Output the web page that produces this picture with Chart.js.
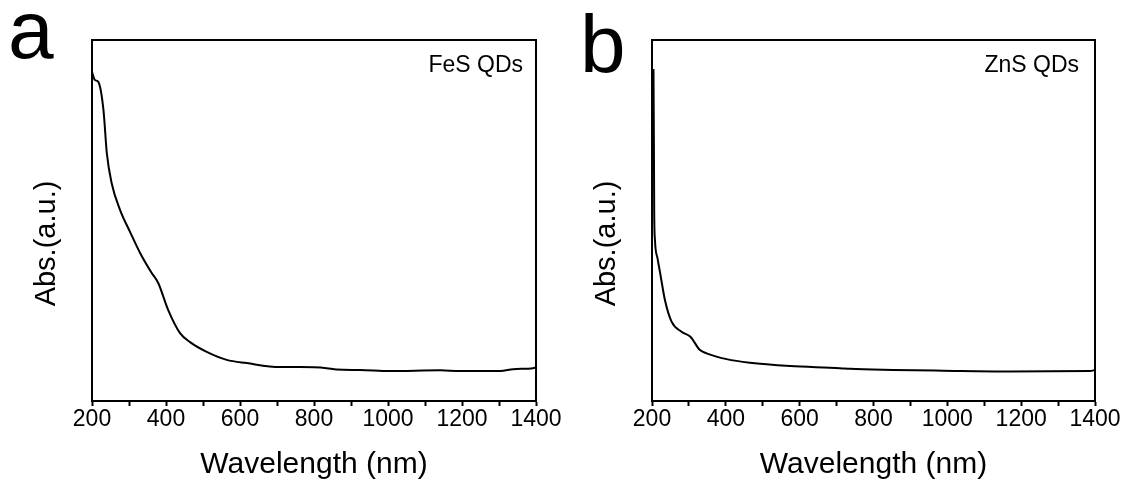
<!DOCTYPE html>
<html>
<head>
<meta charset="utf-8">
<script src="https://cdn.jsdelivr.net/npm/chart.js@4.4.1/dist/chart.umd.min.js"></script>
<style>
  html, body { margin: 0; padding: 0; background: #fff; }
  .panel { position: absolute; top: 0; width: 562px; height: 479px; }
</style>
</head>
<body>
<div class="panel" style="left:0"><canvas id="chartA" width="562" height="479"></canvas></div>
<div class="panel" style="left:562px"><canvas id="chartB" width="562" height="479"></canvas></div>
<script>
// x axis ticks (nm)
const majorTicks = [200, 400, 600, 800, 1000, 1200, 1400];
const minorTicks = [300, 500, 700, 900, 1100, 1300];

// panel a - FeS QDs (abs in arbitrary units, 0..100 = frame height)
const fesWavelength = [200, 208, 217, 231, 240, 253, 276, 303, 330, 361, 379, 406, 438, 465, 510, 564, 618, 708, 762, 834, 861, 924, 1005, 1141, 1195, 1303, 1338, 1392, 1400];
const fesAbs = [91.1, 88.9, 88.4, 80.6, 68.7, 60.4, 52.9, 46.8, 41.0, 35.5, 32.7, 25.2, 18.8, 16.3, 13.6, 11.4, 10.5, 9.4, 9.4, 9.1, 8.7, 8.6, 8.3, 8.5, 8.3, 8.3, 8.8, 9.1, 9.3];

// panel b - ZnS QDs
const znsWavelength = [200, 204, 206, 208, 215, 222, 235, 253, 280, 304, 330, 348, 402, 465, 574, 709, 736, 853, 988, 1170, 1387, 1400];
const znsAbs = [91.5, 91.7, 52.1, 44.6, 39.5, 35.5, 28.0, 22.0, 19.2, 17.8, 14.1, 13.2, 11.6, 10.6, 9.7, 9.1, 8.9, 8.6, 8.4, 8.2, 8.3, 8.6];

const fontFamily = "'Liberation Sans', Arial, sans-serif";

// draws panel letter, sample label and the y title
const panelText = {
  id: 'panelText',
  afterDraw(chart, args, opts) {
    const ctx = chart.ctx;
    const area = chart.chartArea;
    ctx.save();
    ctx.fillStyle = '#000';
    ctx.textBaseline = 'alphabetic';

    ctx.textAlign = 'left';
    ctx.font = '82px ' + fontFamily;
    ctx.fillText(opts.letter, opts.letterX, opts.letterY);

    ctx.textAlign = 'right';
    ctx.font = '23px ' + fontFamily;
    ctx.fillText(opts.label, area.right - opts.labelGap, 72);

    ctx.translate(area.left - 37, 243.5);
    ctx.rotate(-Math.PI / 2);
    ctx.textAlign = 'center';
    ctx.font = '29px ' + fontFamily;
    ctx.fillText('Abs.(a.u.)', 0, 0);
    ctx.restore();
  }
};

function makeChart(id, wl, abs, yWidth, rightPad, textOpts) {
  const points = wl.map((w, i) => ({ x: w, y: abs[i] }));
  return new Chart(document.getElementById(id), {
    type: 'line',
    data: {
      datasets: [{
        data: points,
        borderColor: '#000',
        borderWidth: 2,
        pointRadius: 0,
        fill: false,
        cubicInterpolationMode: 'monotone'
      }]
    },
    options: {
      responsive: false,
      animation: false,
      layout: { padding: { top: 40, right: rightPad, left: 0, bottom: 0 } },
      plugins: {
        legend: { display: false },
        tooltip: { enabled: false },
        panelText: textOpts
      },
      scales: {
        x: {
          type: 'linear',
          min: 200,
          max: 1400,
          afterBuildTicks(scale) {
            scale.ticks = majorTicks.concat(minorTicks).sort((p, q) => p - q).map(v => ({ value: v }));
          },
          afterFit(scale) {
            scale.height = 78;
            // edge labels may hang over the frame, don't shrink the plot for them
            scale.paddingLeft = 0;
            scale.paddingRight = 0;
          },
          ticks: {
            autoSkip: false,
            maxRotation: 0,
            padding: 2,
            color: '#000',
            font: { family: fontFamily, size: 23, lineHeight: 1 },
            callback: v => majorTicks.includes(v) ? String(v) : ''
          },
          grid: { drawOnChartArea: false, tickLength: 5, tickWidth: 2, tickColor: '#000' },
          border: { color: '#000', width: 2 },
          title: {
            display: true,
            text: 'Wavelength (nm)',
            color: '#000',
            font: { family: fontFamily, size: 30, lineHeight: 0.95 },
            padding: 0
          }
        },
        y: {
          min: 0,
          max: 100,
          ticks: { display: false },
          grid: { display: false },
          border: { color: '#000', width: 2 },
          afterFit(scale) { scale.width = yWidth; }
        },
        xTop: {
          type: 'linear',
          position: 'top',
          min: 200,
          max: 1400,
          ticks: { display: false },
          grid: { display: false, drawTicks: false },
          border: { color: '#000', width: 2 },
          afterFit(scale) { scale.height = 0; }
        },
        yRight: {
          position: 'right',
          min: 0,
          max: 100,
          ticks: { display: false },
          grid: { display: false, drawTicks: false },
          border: { color: '#000', width: 2 },
          afterFit(scale) { scale.width = 0; }
        }
      }
    },
    plugins: [panelText]
  });
}

makeChart('chartA', fesWavelength, fesAbs, 92, 26, { letter: 'a', letterX: 8, letterY: 58, label: 'FeS QDs', labelGap: 13 });
makeChart('chartB', znsWavelength, znsAbs, 90, 29, { letter: 'b', letterX: 18, letterY: 72, label: 'ZnS QDs', labelGap: 16 });
</script>
</body>
</html>
